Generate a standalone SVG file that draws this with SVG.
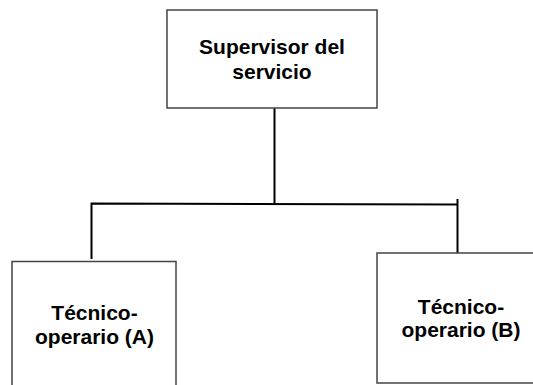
<svg xmlns="http://www.w3.org/2000/svg" width="533" height="385" viewBox="0 0 533 385">
<style>
.box{fill:#fff;stroke:#444;stroke-width:1.5}
.conn{stroke:#000;stroke-width:2;fill:none}
text{font-family:"Liberation Sans",Arial,sans-serif;font-weight:bold;font-size:21px;fill:#000;text-anchor:middle}
</style>
<rect width="533" height="385" fill="#fff"/>
<g id="connectors">
<line class="conn" x1="274.5" y1="108" x2="274.5" y2="203"/>
<polyline class="conn" points="91.5,259 91.5,203.5 457.5,204.5"/>
<line class="conn" x1="457.5" y1="199" x2="457.5" y2="253"/>
</g>
<g id="supervisor">
<rect class="box" x="167" y="10" width="210" height="98"/>
<text x="272" y="54">Supervisor del</text>
<text x="272" y="79">servicio</text>
</g>
<g id="tecnicoA">
<rect class="box" x="12" y="261.5" width="164" height="140"/>
<text x="94.5" y="320">Técnico-</text>
<text x="94.5" y="344">operario (A)</text>
</g>
<g id="tecnicoB">
<rect class="box" x="377" y="253" width="170" height="130"/>
<text x="461" y="314">Técnico-</text>
<text x="461" y="337">operario (B)</text>
</g>
</svg>
